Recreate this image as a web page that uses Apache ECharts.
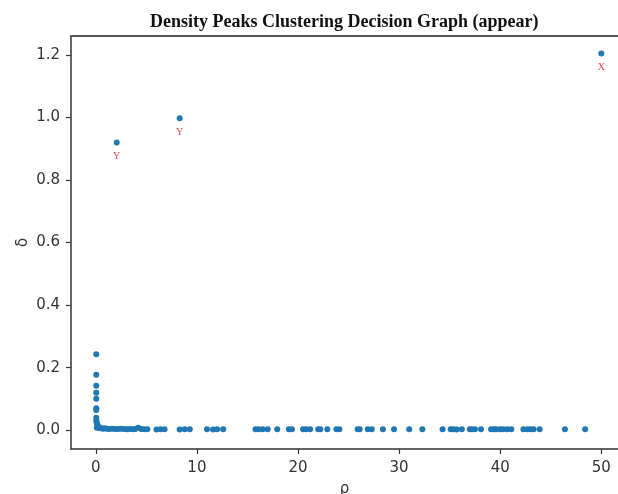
<!DOCTYPE html>
<html>
<head>
<meta charset="utf-8">
<script src="https://cdn.jsdelivr.net/npm/echarts@6/dist/echarts.min.js"></script>
<style>html,body{margin:0;padding:0;background:#fff}#c{width:618px;height:494px}</style>
</head>
<body>
<div id="c"></div>
<script>
// rho (local density) values of ordinary points
const rhoValues = [
  0.05, 0.05, 0.05, 0.05, 0.05, 0.05, 0.05, 0.05, 0.05, 0.1, 0.15, 0.2, 0.1, 0.3, 0.4, 0.5, 0.7, 0.9,
  1.1, 1.3, 1.6, 1.9, 2.2, 2.5, 2.8, 3.1, 3.4, 3.7, 3.9, 4.2, 4.5, 4.8, 5.1,
  6.0, 6.4, 6.8, 8.3, 8.8, 9.3, 11.0, 11.6, 12.0, 12.6,
  15.8, 16.1, 16.5, 17.0, 17.95, 19.1, 19.4, 20.5, 20.8, 21.2, 22.0, 22.2, 22.9, 23.8, 24.1,
  25.9, 26.1, 26.9, 27.3, 28.4, 29.5, 31.0, 32.3, 34.3, 35.1, 35.4, 35.7, 36.2, 37.0, 37.2,
  37.5, 38.1, 39.1, 39.4, 39.6, 40.0, 40.3, 40.7, 41.1, 42.3, 42.7, 43.0, 43.3, 43.9, 46.4, 48.4
];
// delta (distance to higher density) values of ordinary points
const deltaValues = [
  0.243, 0.177, 0.142, 0.120, 0.101, 0.070, 0.065, 0.040, 0.030, 0.025, 0.018, 0.012, 0.008, 0.010, 0.006, 0.007, 0.005, 0.006,
  0.005, 0.004, 0.005, 0.004, 0.004, 0.005, 0.004, 0.003, 0.004, 0.003, 0.004, 0.008, 0.004, 0.003, 0.003,
  0.002, 0.003, 0.003, 0.002, 0.003, 0.003, 0.003, 0.002, 0.003, 0.003,
  0.003, 0.003, 0.003, 0.003, 0.003, 0.003, 0.003, 0.003, 0.003, 0.003, 0.003, 0.003, 0.003, 0.003, 0.003,
  0.003, 0.003, 0.003, 0.003, 0.003, 0.003, 0.003, 0.003, 0.003, 0.003, 0.003, 0.002, 0.003, 0.003, 0.003,
  0.003, 0.003, 0.003, 0.003, 0.003, 0.003, 0.003, 0.003, 0.003, 0.003, 0.003, 0.003, 0.003, 0.003, 0.003, 0.003
];
// labelled cluster-centre candidates
const peakRho = [2.07, 8.3, 50.0];
const peakDelta = [0.92, 0.997, 1.204];
const peakLabels = ['Y', 'Y', 'X'];

const xTicks = [0, 10, 20, 30, 40, 50];
const yTicks = [0, 0.2, 0.4, 0.6, 0.8, 1.0, 1.2];

const pts = rhoValues.map((r, i) => [r, deltaValues[i]]);
const peaks = peakRho.map((r, i) => ({ value: [r, peakDelta[i]], name: peakLabels[i] }));

const chart = echarts.init(document.getElementById('c'), null, { renderer: 'canvas' });
const axisColor = '#333';
const lblFont = { fontFamily: 'DejaVu Sans', fontSize: 15, color: '#333' };
chart.setOption({
  animation: false,
  backgroundColor: '#fff',
  title: {
    text: 'Density Peaks Clustering Decision Graph (appear)',
    left: 145, top: 8,
    textStyle: { fontFamily: 'Liberation Serif', fontWeight: 'bold', fontSize: 18, color: '#111' }
  },
  grid: { left: 71, top: 36, bottom: 45, right: 0, show: false, outerBoundsMode: 'none', containLabel: false },
  xAxis: [{
    type: 'value', min: -2.45, max: 51.65,
    name: 'ρ', nameLocation: 'middle', nameGap: 33, nameMoveOverlap: false,
    nameTextStyle: lblFont,
    axisLine: { show: true, onZero: false, lineStyle: { color: axisColor, width: 1.5 } },
    axisTick: { show: true, length: 5, lineStyle: { color: axisColor, width: 1.2 }, customValues: xTicks },
    axisLabel: Object.assign({ margin: 12, customValues: xTicks }, lblFont),
    splitLine: { show: false }
  }, {
    type: 'value', position: 'top', min: -2.45, max: 51.65,
    axisLine: { show: true, onZero: false, lineStyle: { color: '#555', width: 2 } },
    axisTick: { show: false }, axisLabel: { show: false }, splitLine: { show: false }
  }],
  yAxis: {
    type: 'value', min: -0.06, max: 1.26,
    name: 'δ', nameLocation: 'middle', nameGap: 40, nameRotate: 90, nameMoveOverlap: false,
    nameTextStyle: lblFont,
    axisLine: { show: true, onZero: false, lineStyle: { color: axisColor, width: 1.5 } },
    axisTick: { show: true, length: 5, lineStyle: { color: axisColor, width: 1.2 }, customValues: yTicks },
    axisLabel: Object.assign({ margin: 11, customValues: yTicks, formatter: v => v.toFixed(1) }, lblFont),
    splitLine: { show: false }
  },
  series: [
    {
      type: 'scatter', data: pts, symbolSize: 6,
      itemStyle: { color: '#1f77b4', opacity: 1 }
    },
    {
      type: 'scatter', data: peaks, symbolSize: 6,
      itemStyle: { color: '#1f77b4', opacity: 1 },
      label: { show: true, position: 'bottom', distance: 6, formatter: p => p.name,
        fontFamily: 'Liberation Serif', fontSize: 10, color: '#e8413d' }
    }
  ]
});
</script>
</body>
</html>
